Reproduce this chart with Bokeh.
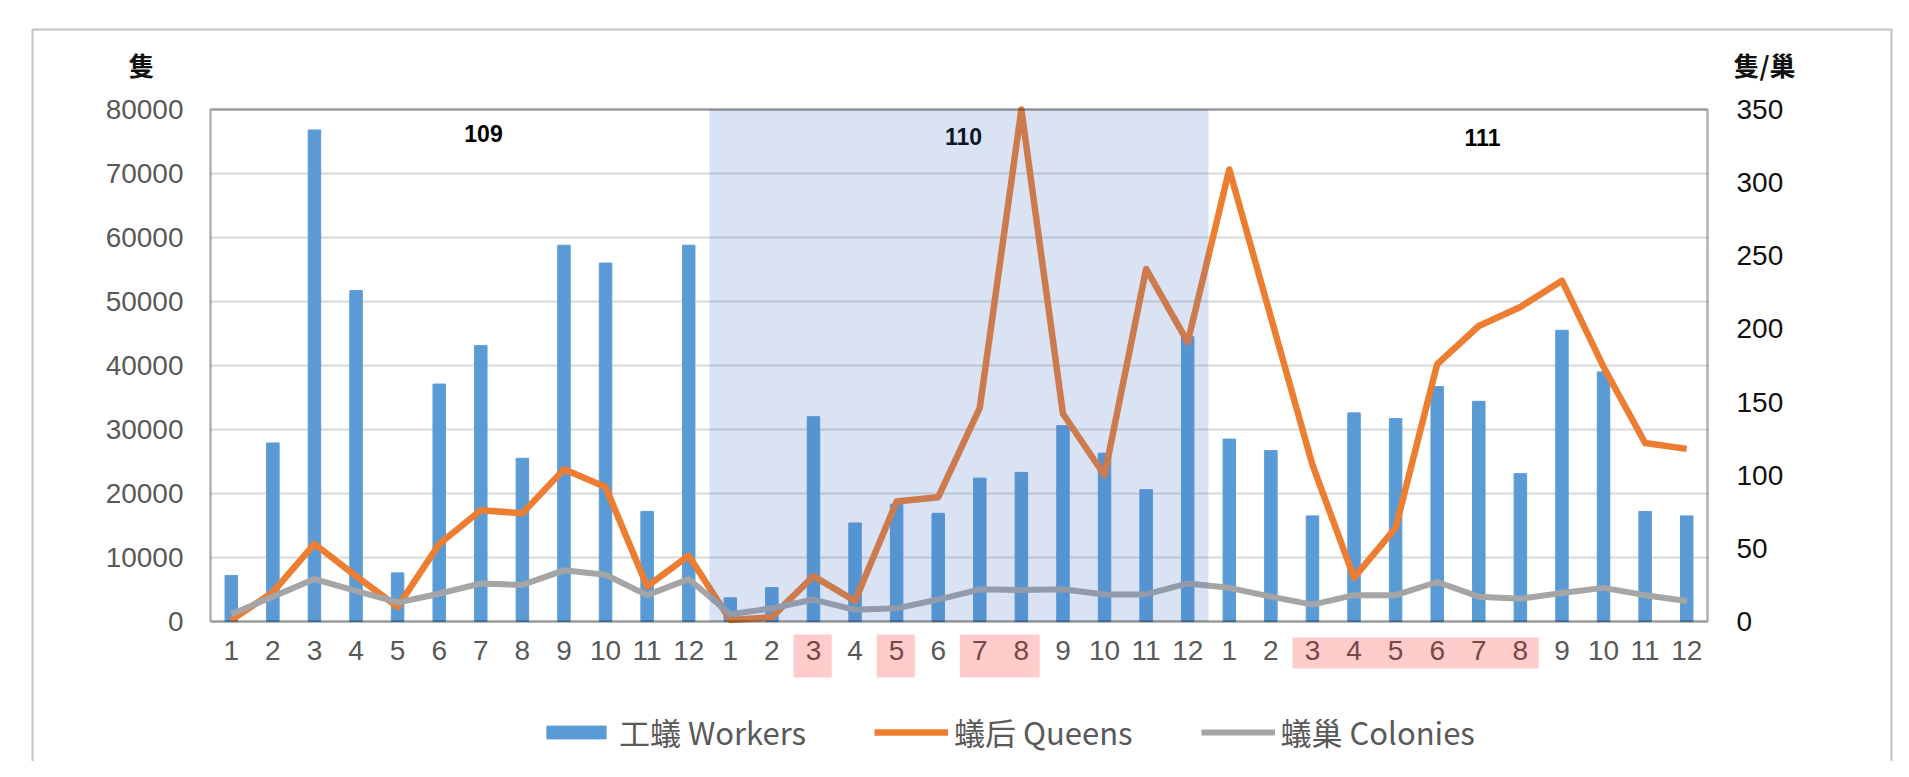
from bokeh.plotting import figure
from bokeh.models import (Range1d, LinearAxis, FixedTicker, BoxAnnotation, Label,
                          Legend, LegendItem, ColumnDataSource)
from bokeh.embed import file_html
from bokeh.resources import INLINE

# ---------------- data ----------------
years = ["109", "110", "111"]
months = list(range(1, 13))
workers = [7200, 27900, 76800, 51700, 7600, 37100, 43100, 25500, 58800, 56000, 17200, 58800,
           3700, 5300, 32000, 15400, 18300, 16900, 22400, 23300, 30600, 26300, 20600, 44500,
           28500, 26700, 16500, 32600, 31700, 36700, 34400, 23100, 45500, 39000, 17200, 16500]
queens = [1, 20, 53, 31, 10, 53, 76, 74, 104, 92, 24, 45,
          1, 3, 31, 14, 82, 85, 146, 350, 142, 100, 241, 191,
          309, 208, 107, 30, 64, 176, 202, 215, 233, 174, 122, 118]
colonies = [5, 17, 29, 21, 13, 19, 26, 25, 35, 32, 18, 29,
            5, 9, 15, 8, 9, 15, 22, 21.5, 22, 18.5, 18.5, 26,
            23, 17, 11.5, 18, 18, 27, 17, 15.5, 19.5, 23, 18, 14]
highlights = {"110": [[3], [5], [7, 8]], "111": [[3, 4, 5, 6, 7, 8]]}
left_ticks = list(range(0, 80001, 10000))
right_ticks = list(range(0, 351, 50))
series_names = ["工蟻 Workers", "蟻后 Queens", "蟻巢 Colonies"]
left_unit = "隻"
right_unit = "隻/巢"

n = len(years) * len(months)
xs = list(range(1, n + 1))
src = ColumnDataSource(dict(x=xs, workers=workers, queens=queens, colonies=colonies))

# ---------------- layout (image pixels; canvas starts at the image origin) ----------------
W, H = 1893, 761
PL, PT, PR, PB = 210, 109, 1707, 621   # inner plot area
LMAX, RMAX = 80000, 350


def dx(px):
    return 0.5 + (px - PL) / (PR - PL) * n


def dy(py):
    return (PB - py) / (PB - PT) * LMAX


def dyr(py):
    return (PB - py) / (PB - PT) * RMAX


p = figure(width=W, height=H,
           x_range=Range1d(dx(0), dx(W)), y_range=Range1d(dy(H), dy(0)),
           output_backend="svg", toolbar_location=None,
           min_border_left=0, min_border_right=0, min_border_top=0, min_border_bottom=0)
p.background_fill_color = "white"
p.border_fill_color = "white"
p.outline_line_color = None
p.extra_y_ranges = {"right": Range1d(dyr(H), dyr(0))}

# axes (pinned to the plot-area edges)
xa = p.xaxis[0]
xa.ticker = FixedTicker(ticks=xs)
xa.major_label_overrides = {i: str(months[(i - 1) % 12]) for i in xs}
xa.fixed_location = 0
ya = p.yaxis[0]
ya.ticker = FixedTicker(ticks=left_ticks)
ya.fixed_location = 0.5
ra = LinearAxis(y_range_name="right", ticker=FixedTicker(ticks=right_ticks))
ra.fixed_location = n + 0.5
p.add_layout(ra, "right")
for ax, col in ((xa, "#595959"), (ya, "#595959"), (ra, "#111111")):
    ax.axis_line_color = None
    ax.major_tick_line_color = None
    ax.minor_tick_line_color = None
    ax.major_tick_out = 0
    ax.major_tick_in = 0
    ax.major_label_text_font = "Liberation Sans"
    ax.major_label_text_font_size = "28px"
    ax.major_label_text_color = col
ya.major_label_standoff = 27
ra.major_label_standoff = 29
xa.major_label_standoff = 19
ya.formatter.use_scientific = False

p.xgrid.grid_line_color = None
p.ygrid.grid_line_color = None

# horizontal gridlines inside the plot area only
p.segment(x0=[0.5] * len(left_ticks), x1=[n + 0.5] * len(left_ticks),
          y0=left_ticks, y1=left_ticks, line_color="#D9D9D9", line_width=2)

# series
r_bar = p.vbar(x="x", top="workers", width=0.3, source=src, color="#5B9BD5")
r_q = p.line("x", "queens", source=src, y_range_name="right", color="#ED7D31",
             line_width=6.5, line_join="round")
r_c = p.line("x", "colonies", source=src, y_range_name="right", color="#A5A5A5",
             line_width=6, line_join="round")

# year labels
year_x = [dx(483), dx(963), dx(1482)]
year_y = [dy(133), dy(136), dy(137)]
for t, x0, y0 in zip(years, year_x, year_y):
    p.add_layout(Label(x=x0, y=y0, text=t, text_align="center", text_baseline="middle",
                       text_font="Liberation Sans", text_font_style="bold",
                       text_font_size="23px", text_color="black"))

# year 110 shaded overlay
p.add_layout(BoxAnnotation(left=12.5, right=24.5, bottom=0, top=LMAX,
                           fill_color="#4472C4", fill_alpha=0.2, line_color=None))

# plot-area border
p.add_layout(BoxAnnotation(left=0.5, right=n + 0.5, bottom=0, top=LMAX,
                           fill_alpha=0, line_color="black", line_width=2.5))

# highlighted month labels
for yi, yr in enumerate(years):
    for grp in highlights.get(yr, []):
        a = yi * 12 + grp[0]
        b = yi * 12 + grp[-1]
        top, bot = (dy(634), dy(677)) if yr == "110" else (dy(637), dy(668))
        p.add_layout(BoxAnnotation(left=a - 0.48, right=b + 0.44, top=top, bottom=bot,
                                   fill_color="#FF0000", fill_alpha=0.2, line_color=None))

# unit labels
p.add_layout(Label(x=dx(141), y=dy(64), text=left_unit, text_align="center",
                   text_baseline="middle", text_font="Noto Sans CJK TC",
                   text_font_style="bold", text_font_size="26px", text_color="#111111"))
p.add_layout(Label(x=dx(1764), y=dy(64), text=right_unit, text_align="center",
                   text_baseline="middle", text_font="Noto Sans CJK TC",
                   text_font_style="bold", text_font_size="26px", text_color="#111111"))

# outer frame
p.add_layout(BoxAnnotation(left=dx(32), right=dx(W - 2), top=dy(29), bottom=dy(H + 60),
                           fill_alpha=0, line_color="#333333", line_width=2))

# legend
legend = Legend(items=[LegendItem(label=series_names[0], renderers=[r_bar]),
                       LegendItem(label=series_names[1], renderers=[r_q]),
                       LegendItem(label=series_names[2], renderers=[r_c])],
                orientation="horizontal", location=(539, 7),
                label_text_font="Noto Sans CJK TC", label_text_font_size="31px",
                label_text_color="#595959", glyph_width=74, glyph_height=16,
                label_standoff=6, spacing=68, padding=0, margin=0,
                border_line_color=None, background_fill_alpha=0)
p.add_layout(legend, "center")

open("out.html", "w").write(file_html(p, INLINE))
